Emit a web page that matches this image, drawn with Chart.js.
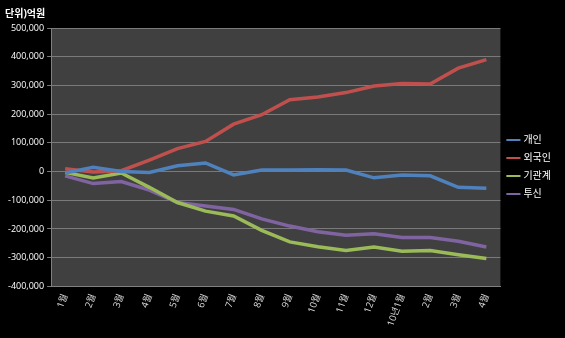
<!DOCTYPE html>
<html>
<head>
<meta charset="utf-8">
<script src="https://cdn.jsdelivr.net/npm/chart.js@4/dist/chart.umd.min.js"></script>
<style>
  html, body { margin: 0; padding: 0; background: #000; }
  #wrap { width: 565px; height: 338px; }
</style>
</head>
<body>
<div id="wrap"><canvas id="chart"></canvas></div>
<script>
// data (단위: 억원)
const months = ['1월', '2월', '3월', '4월', '5월', '6월', '7월', '8월', '9월', '10월', '11월', '12월', '10년1월', '2월', '3월', '4월'];
const individual = [-5000, 15000, 0, -3000, 20000, 30000, -12000, 5000, 5000, 6000, 5000, -22000, -12000, -15000, -55000, -58000];
const foreign = [10000, -2000, 3000, 40000, 80000, 105000, 165000, 198000, 250000, 260000, 275000, 298000, 307000, 305000, 360000, 390000];
const institution = [-3000, -22000, -5000, -55000, -108000, -138000, -155000, -205000, -245000, -262000, -275000, -263000, -278000, -275000, -290000, -303000];
const trust = [-15000, -42000, -35000, -65000, -108000, -120000, -132000, -165000, -190000, -210000, -222000, -217000, -230000, -230000, -243000, -263000];
const yTicks = [500000, 400000, 300000, 200000, 100000, 0, -100000, -200000, -300000, -400000];

const font = "'Open Sans', 'Noto Sans CJK KR', sans-serif";

// dark gray plot area like the original
const plotBg = {
  id: 'plotBg',
  beforeDraw(chart) {
    const { ctx, chartArea: a } = chart;
    ctx.save();
    ctx.fillStyle = '#404040';
    ctx.fillRect(a.left, a.top, a.right - a.left, a.bottom - a.top);
    ctx.restore();
  }
};

function line(label, data, color) {
  return {
    label, data,
    borderColor: color,
    backgroundColor: color,
    borderWidth: 3.5,
    pointRadius: 0,
    tension: 0
  };
}

new Chart(document.getElementById('chart'), {
  type: 'line',
  data: {
    labels: months,
    datasets: [
      line('개인', individual, '#4f81bd'),
      line('외국인', foreign, '#c0504d'),
      line('기관계', institution, '#9bbb59'),
      line('투신', trust, '#8064a2')
    ]
  },
  options: {
    responsive: true,
    maintainAspectRatio: false,
    animation: false,
    layout: { padding: { left: 5, right: 4, top: 0, bottom: 4 } },
    plugins: {
      title: {
        display: true,
        text: '단위)억원',
        align: 'start',
        color: '#fff',
        font: { family: font, size: 10 },
        padding: { top: 8, bottom: 8 }
      },
      legend: {
        position: 'right',
        labels: {
          color: '#fff',
          font: { family: font, size: 10 },
          usePointStyle: true,
          pointStyle: 'line',
          boxWidth: 22,
          padding: 8,
          generateLabels(chart) {
            const items = Chart.defaults.plugins.legend.labels.generateLabels(chart);
            items.forEach(it => { it.lineWidth = 2; });
            return items;
          }
        }
      },
      tooltip: { enabled: false }
    },
    scales: {
      x: {
        offset: true,
        grid: { display: false, drawTicks: false },
        border: { color: '#808080' },
        ticks: {
          color: '#ddd',
          font: { family: font, size: 9.5 },
          minRotation: 70,
          maxRotation: 70,
          autoSkip: false,
          padding: 6
        }
      },
      y: {
        min: -400000,
        max: 500000,
        afterBuildTicks(axis) { axis.ticks = yTicks.map(v => ({ value: v })); },
        grid: { color: '#7a7a7a', lineWidth: 1, drawTicks: true, tickLength: 4 },
        border: { color: '#808080' },
        ticks: {
          color: '#fff',
          font: { family: font, size: 9 },
          callback: v => v.toLocaleString('en-US')
        }
      }
    }
  },
  plugins: [plotBg]
});
</script>
</body>
</html>
